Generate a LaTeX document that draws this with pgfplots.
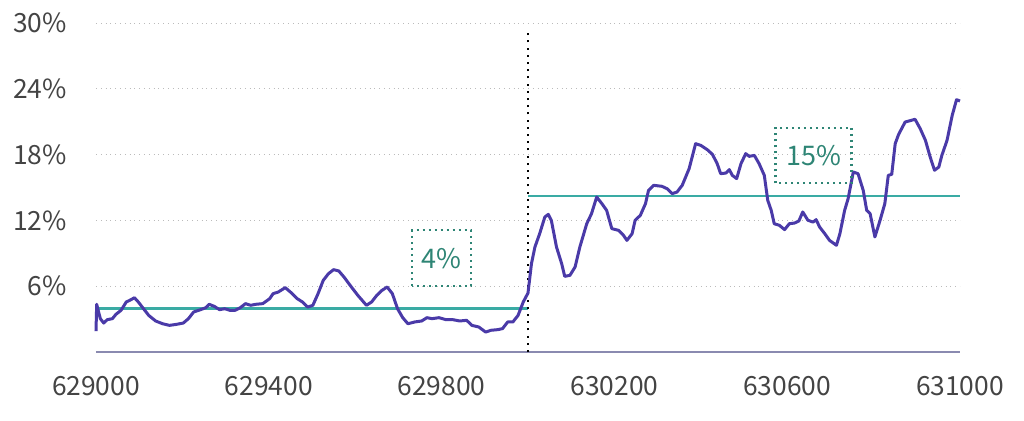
\documentclass[border=0pt]{standalone}
\usepackage{pgfplots}
\pgfplotsset{compat=1.18}
\usepackage{fontspec}
\setmainfont{Noto Sans CJK SC}

\definecolor{lineblue}{HTML}{4A3AA8}
\definecolor{avgteal}{HTML}{3AABA4}
\definecolor{boxteal}{HTML}{2E8575}
\definecolor{gridgray}{HTML}{BBBBBB}
\definecolor{axisgray}{HTML}{8A8AB0}
\definecolor{labelgray}{HTML}{444444}

\begin{document}
\begin{tikzpicture}
\useasboundingbox (-48pt,-34pt) rectangle (464pt,176pt);
\begin{axis}[
    scale only axis,
    width=432pt, height=164.5pt,
    xmin=629000, xmax=631000,
    ymin=0, ymax=30,
    axis x line*=bottom,
    axis y line*=left,
    x axis line style={-, color=axisgray, line width=0.6pt},
    y axis line style={draw=none},
    xtick={629000,629400,629800,630200,630600,631000},
    xticklabels={629000,629400,629800,630200,630600,631000},
    scaled x ticks=false,
    ytick={6,12,18,24,30},
    yticklabels={6\%,12\%,18\%,24\%,30\%},
    ymajorgrids,
    grid style={gridgray, dotted, line width=0.5pt},
    major tick length=0pt,
    tick label style={font=\fontsize{13.2}{15}\selectfont, text=labelgray},
    xticklabel style={yshift=-8.5pt},
    yticklabel style={xshift=-11pt},
    /pgf/number format/assume math mode=true,
    clip=false,
]
% averages
\addplot[avgteal, line width=1.4pt] coordinates {(629000,3.95) (630000,3.95)};
\addplot[avgteal, line width=1.4pt] coordinates {(630000,14.22) (631000,14.22)};
% divider
\addplot[black, line width=1.2pt, dash pattern=on 1pt off 2.6pt] coordinates {(630000,0) (630000,29.3)};
% rate
\addplot[lineblue, line width=1.5pt, line join=round] coordinates {
(629000,1.91) (629001.6,4.35) (629010,3.04) (629018,2.64) (629026,2.95) (629038,3.04)
(629046,3.43) (629058,3.80) (629070,4.56) (629078,4.71) (629089,4.95) (629098,4.56)
(629110,3.95) (629122,3.34) (629138,2.83) (629154,2.58) (629170,2.43) (629186,2.52)
(629202,2.64) (629214,3.04) (629226,3.65) (629242,3.86) (629254,4.04) (629262,4.35)
(629274,4.16) (629286,3.86) (629298,3.95) (629310,3.80) (629322,3.80) (629334,4.04)
(629346,4.41) (629358,4.26) (629370,4.35) (629386,4.41) (629402,4.86) (629410,5.32)
(629422,5.47) (629438,5.87) (629450,5.47) (629466,4.86) (629478,4.56) (629490,4.10)
(629502,4.26) (629514,5.32) (629526,6.53) (629538,7.14) (629550,7.51) (629562,7.39)
(629574,6.84) (629590,5.99) (629606,5.17) (629626,4.26) (629638,4.56) (629650,5.17)
(629662,5.62) (629674,5.93) (629686,5.32) (629698,3.95) (629710,3.13) (629722,2.58)
(629738,2.74) (629754,2.83) (629766,3.13) (629778,3.04) (629794,3.13) (629810,2.95)
(629826,2.95) (629842,2.83) (629858,2.89) (629870,2.43) (629886,2.28) (629902,1.82)
(629914,1.98) (629930,2.04) (629941,2.13) (629953,2.74) (629965,2.74) (629977,3.34)
(629989,4.56) (630000,5.38)
(630008,8.05) (630016,9.57) (630027,10.79) (630039,12.31) (630047,12.55) (630054,12.01)
(630066,9.57) (630078,8.05) (630085,6.90) (630097,6.99) (630109,7.75) (630120,9.57)
(630136,11.70) (630147,12.61) (630159,14.13) (630171,13.53) (630182,12.92) (630194,11.25)
(630210,11.09) (630221,10.64) (630229,10.18) (630241,10.79) (630248,12.01) (630260,12.46)
(630272,13.53) (630279,14.74) (630291,15.20) (630310,15.11) (630322,14.89) (630334,14.44)
(630345,14.59) (630357,15.20) (630373,16.72) (630388,19.00) (630400,18.84) (630415,18.45)
(630427,18.02) (630438,17.17) (630446,16.26) (630458,16.32) (630466,16.63) (630473,16.11)
(630483,15.81) (630493,17.17) (630504,18.09) (630512,17.84) (630524,17.93) (630535,17.17)
(630547,16.11) (630555,13.83) (630563,12.92) (630570,11.70) (630582,11.55) (630594,11.16)
(630605,11.70) (630617,11.76) (630627,11.95) (630636,12.77) (630648,12.01) (630660,11.85)
(630667,12.07) (630675,11.40) (630687,10.79) (630698,10.18) (630714,9.73) (630722,10.79)
(630733,12.92) (630741,13.98) (630753,16.41) (630764,16.26) (630776,14.74) (630784,12.92)
(630792,12.61) (630803,10.49) (630815,12.01) (630826,13.53) (630834,16.11) (630842,16.20)
(630850,19.00) (630858,19.85) (630873,20.97) (630896,21.22) (630908,20.36) (630920,19.30)
(630931,17.78) (630941,16.57) (630951,16.87) (630958,17.93) (630970,19.30) (630982,21.58)
(630992,23.01) (631000,22.89)
};
% annotation boxes
\draw[boxteal, line width=1.1pt, dash pattern=on 1pt off 2pt]
    (axis cs:629732,6.02) rectangle (axis cs:629868,11.09);
\node[text=boxteal, font=\fontsize{13.5}{15}\selectfont] at (axis cs:629800,8.55) {4\%};
\draw[boxteal, line width=1.1pt, dash pattern=on 1pt off 2pt]
    (axis cs:630573,15.38) rectangle (axis cs:630749,20.46);
\node[text=boxteal, font=\fontsize{13.5}{15}\selectfont] at (axis cs:630661,17.92) {15\%};
\end{axis}
\end{tikzpicture}
\end{document}
